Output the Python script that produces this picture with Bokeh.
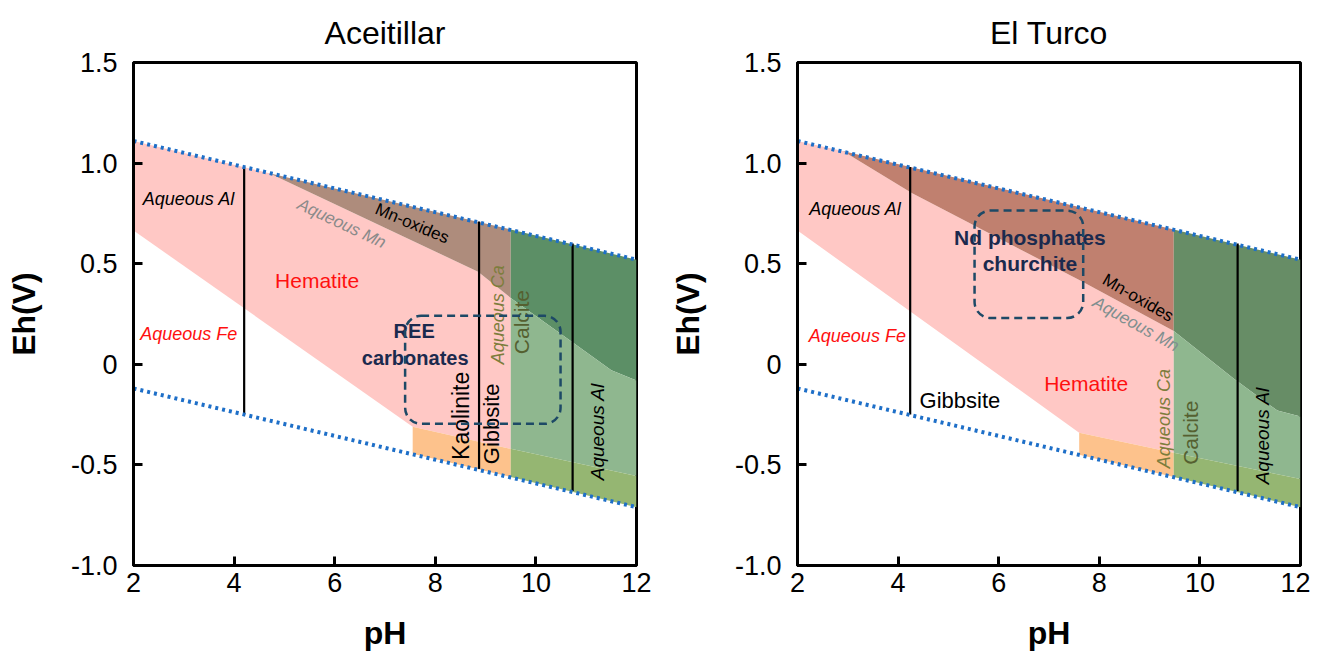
import math
from bokeh.plotting import figure
from bokeh.layouts import row
from bokeh.models import Range1d, FixedTicker, BoxAnnotation
from bokeh.core.properties import value
from bokeh.embed import file_html
from bokeh.resources import INLINE

FONT = "Liberation Sans"

# ---------------- data ----------------
X_TICKS = [2, 4, 6, 8, 10, 12]
Y_TICKS = [-1.0, -0.5, 0.0, 0.5, 1.0, 1.5]
Y_TICK_LABELS = ["-1.0", "-0.5", "0", "0.5", "1.0", "1.5"]

WATER_PH = [2, 12]
WATER_UPPER_EH = [1.11, 0.52]
WATER_LOWER_EH = [-0.12, -0.71]

# Aceitillar
A_PINK_PH = [2.0, 4.7, 8.85, 9.5, 9.5, 7.55, 2.0]
A_PINK_EH = [1.11, 0.95, 0.46, 0.33, -0.42, -0.31, 0.665]
A_BROWN_PH = [4.7, 9.5, 9.5, 8.85, 4.7]
A_BROWN_EH = [0.95, 0.67, 0.33, 0.46, 0.95]
A_ORANGE_PH = [7.55, 9.5, 9.5, 7.55]
A_ORANGE_EH = [-0.31, -0.42, -0.56, -0.445]
A_DKGREEN_PH = [9.5, 12.0, 12.0, 11.5, 10.7, 9.5]
A_DKGREEN_EH = [0.67, 0.52, -0.08, -0.03, 0.115, 0.33]
A_LTGREEN_PH = [9.5, 10.7, 11.5, 12.0, 12.0, 9.5]
A_LTGREEN_EH = [0.33, 0.115, -0.03, -0.08, -0.555, -0.42]
A_OLIVE_PH = [9.5, 12.0, 12.0, 9.5]
A_OLIVE_EH = [-0.42, -0.555, -0.71, -0.56]
A_VLINE_PH = [4.2, 8.87, 10.73]
A_VLINE_TOP = [0.98, 0.71, 0.60]
A_VLINE_BOT = [-0.25, -0.52, -0.63]
A_BOX = dict(left=7.4, right=10.49, bottom=-0.296, top=0.241)

# El Turco
T_PINK_PH = [2.0, 2.9, 4.28, 7.63, 9.48, 9.48, 7.6, 2.0]
T_PINK_EH = [1.11, 1.06, 0.85, 0.415, 0.165, -0.44, -0.34, 0.665]
T_BROWN_PH = [2.9, 9.48, 9.48, 7.63, 4.28, 2.9]
T_BROWN_EH = [1.06, 0.67, 0.165, 0.415, 0.85, 1.06]
T_ORANGE_PH = [7.6, 9.48, 9.48, 7.6]
T_ORANGE_EH = [-0.34, -0.44, -0.56, -0.45]
T_DKGREEN_PH = [9.48, 12.0, 12.0, 11.54, 10.67, 9.48]
T_DKGREEN_EH = [0.67, 0.52, -0.26, -0.23, -0.07, 0.165]
T_LTGREEN_PH = [9.48, 10.67, 11.54, 12.0, 12.0, 9.48]
T_LTGREEN_EH = [0.165, -0.07, -0.23, -0.26, -0.57, -0.44]
T_OLIVE_PH = [9.48, 12.0, 12.0, 9.48]
T_OLIVE_EH = [-0.44, -0.57, -0.71, -0.56]
T_VLINE_PH = [4.24, 10.75]
T_VLINE_TOP = [0.98, 0.60]
T_VLINE_BOT = [-0.25, -0.63]
T_BOX = dict(left=5.52, right=7.68, bottom=0.23, top=0.764)

PINK = "#ffc8c5"
ORANGE = "#fdc28c"
LTGREEN = "#8fb78f"
OLIVE = "#95b672"
BLUE = "#1e6fc8"
NAVY = "#1b2a4e"


def make_fig(title, width, border_left, border_right):
    p = figure(width=width, height=659, x_range=Range1d(2, 12), y_range=Range1d(-1, 1.5),
               output_backend="svg", toolbar_location=None, title=title,
               min_border_left=border_left, min_border_right=border_right,
               min_border_top=62, min_border_bottom=94)
    p.title.align = "center"
    p.title.text_font = FONT
    p.title.text_font_size = "32px"
    p.title.text_font_style = "normal"
    p.title.text_color = "black"
    p.title.standoff = 23
    p.grid.visible = False
    p.outline_line_color = "black"
    p.outline_line_width = 3
    p.outline_line_alpha = 1
    p.xaxis.ticker = FixedTicker(ticks=X_TICKS)
    p.yaxis.ticker = FixedTicker(ticks=Y_TICKS)
    p.yaxis.major_label_overrides = dict(zip(Y_TICKS, Y_TICK_LABELS))
    p.xaxis.axis_label = "pH"
    p.yaxis.axis_label = "Eh(V)"
    for ax in (p.xaxis, p.yaxis):
        ax.axis_line_color = "black"
        ax.axis_line_width = 3
        ax.major_tick_in = 9
        ax.major_tick_out = 0
        ax.major_tick_line_width = 3
        ax.major_tick_line_color = "black"
        ax.minor_tick_line_color = None
        ax.major_label_text_font = FONT
        ax.major_label_text_font_size = "27px"
        ax.major_label_text_color = "black"
        ax.axis_label_text_font = FONT
        ax.axis_label_text_font_size = "32px"
        ax.axis_label_text_font_style = "bold"
        ax.axis_label_text_color = "black"
    p.xaxis.major_label_standoff = 7
    p.xaxis.axis_label_standoff = 20
    p.yaxis.major_label_standoff = 16
    p.yaxis.axis_label_standoff = 26
    return p


def label(p, txt, x, y, size, color="black", style="normal", angle=0.0):
    p.text(x=[x], y=[y], text=[txt], angle=angle, text_align="center", text_baseline="middle",
           text_font=value(FONT), text_font_size=size, text_color=color, text_font_style=style)


def regions(p, pink, brown, orange, dk, lt, olive, brown_col, dk_col):
    p.patch(pink[0], pink[1], fill_color=PINK, line_color=None)
    p.patch(brown[0], brown[1], fill_color=brown_col, line_color=None)
    p.patch(orange[0], orange[1], fill_color=ORANGE, line_color=None)
    p.patch(dk[0], dk[1], fill_color=dk_col, line_color=None)
    p.patch(lt[0], lt[1], fill_color=LTGREEN, line_color=None)
    p.patch(olive[0], olive[1], fill_color=OLIVE, line_color=None)


def water(p):
    p.line(WATER_PH, WATER_UPPER_EH, line_color=BLUE, line_width=4, line_dash="3 4")
    p.line(WATER_PH, WATER_LOWER_EH, line_color=BLUE, line_width=4, line_dash="3 4")


def box(p, b):
    p.add_layout(BoxAnnotation(left=b["left"], right=b["right"], bottom=b["bottom"], top=b["top"],
                               fill_alpha=0, line_color="#1d4966", line_alpha=1, line_width=2.5,
                               line_dash="8 5", border_radius=16))


# ---------------- Aceitillar ----------------
p1 = make_fig("Aceitillar", 666, 133, 30)
regions(p1, (A_PINK_PH, A_PINK_EH), (A_BROWN_PH, A_BROWN_EH), (A_ORANGE_PH, A_ORANGE_EH),
        (A_DKGREEN_PH, A_DKGREEN_EH), (A_LTGREEN_PH, A_LTGREEN_EH), (A_OLIVE_PH, A_OLIVE_EH),
        "#ae8c7c", "#5c8f66")
p1.segment(x0=A_VLINE_PH, y0=A_VLINE_BOT, x1=A_VLINE_PH, y1=A_VLINE_TOP, line_color="black", line_width=2.2)
water(p1)
box(p1, A_BOX)
label(p1, "Aqueous Al", 3.1, 0.82, "18px", style="italic")
label(p1, "Aqueous Mn", 6.14, 0.70, "17px", color="#8a8a8a", style="italic", angle=math.radians(-25))
label(p1, "Mn-oxides", 7.54, 0.70, "17px", angle=math.radians(-23))
label(p1, "Hematite", 5.65, 0.415, "21px", color="#ff1010")
label(p1, "Aqueous Fe", 3.1, 0.15, "18px", color="#ff1010", style="italic")
label(p1, "REE", 7.58, 0.167, "20px", color=NAVY, style="bold")
label(p1, "carbonates", 7.6, 0.032, "20px", color=NAVY, style="bold")
label(p1, "Kaolinite", 8.51, -0.256, "23px", angle=math.pi / 2)
label(p1, "Gibbsite", 9.11, -0.296, "22px", angle=math.pi / 2)
label(p1, "Aqueous Ca", 9.25, 0.246, "18px", color="#7d7d3c", style="italic", angle=math.pi / 2)
label(p1, "Calcite", 9.71, 0.21, "21px", color="#556030", angle=math.pi / 2)
label(p1, "Aqueous Al", 11.22, -0.335, "19px", style="italic", angle=math.pi / 2)

# ---------------- El Turco ----------------
p2 = make_fig("El Turco", 644, 129, 10)
regions(p2, (T_PINK_PH, T_PINK_EH), (T_BROWN_PH, T_BROWN_EH), (T_ORANGE_PH, T_ORANGE_EH),
        (T_DKGREEN_PH, T_DKGREEN_EH), (T_LTGREEN_PH, T_LTGREEN_EH), (T_OLIVE_PH, T_OLIVE_EH),
        "#c0806f", "#678d66")
p2.segment(x0=T_VLINE_PH, y0=T_VLINE_BOT, x1=T_VLINE_PH, y1=T_VLINE_TOP, line_color="black", line_width=2.2)
water(p2)
box(p2, T_BOX)
label(p2, "Aqueous Al", 3.15, 0.77, "18px", style="italic")
label(p2, "Aqueous Fe", 3.19, 0.14, "18px", color="#ff1010", style="italic")
label(p2, "Gibbsite", 5.23, -0.18, "22px")
label(p2, "Hematite", 7.74, -0.097, "21px", color="#ff1010")
label(p2, "Nd phosphates", 6.62, 0.63, "21px", color=NAVY, style="bold")
label(p2, "churchite", 6.62, 0.50, "21px", color=NAVY, style="bold")
label(p2, "Mn-oxides", 8.77, 0.33, "17px", angle=math.radians(-30))
label(p2, "Aqueous Mn", 8.73, 0.20, "17px", color="#7f8f8f", style="italic", angle=math.radians(-29))
label(p2, "Aqueous Ca", 9.29, -0.27, "18px", color="#7d7d3c", style="italic", angle=math.pi / 2)
label(p2, "Calcite", 9.82, -0.34, "21px", color="#556030", angle=math.pi / 2)
label(p2, "Aqueous Al", 11.25, -0.355, "19px", style="italic", angle=math.pi / 2)

layout = row(p1, p2)
open("out.html", "w").write(file_html(layout, INLINE))
